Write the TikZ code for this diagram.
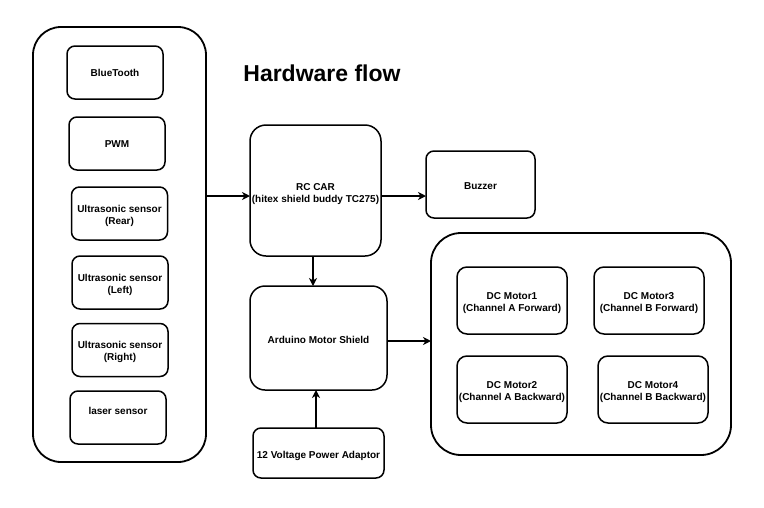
\documentclass[tikz,border=0pt]{standalone}
\usepackage{fontspec}
\setmainfont{Liberation Sans}
\usetikzlibrary{arrows.meta}
\newcommand\boxtext[2][-3pt]{\raisebox{#1}[\height][\depth]{\begin{tabular}{@{}c@{}}#2\end{tabular}}}
\begin{document}
\begin{tikzpicture}[x=1pt,y=-1pt,
		box/.style={draw,line width=1.5pt,rounded corners=8pt,align=center,inner sep=0pt,outer sep=0pt,
			font=\bfseries\fontsize{10}{12}\selectfont},
		group/.style={draw,line width=1.8pt,rounded corners=28pt,inner sep=0pt,outer sep=0pt},
		arr/.style={line width=1.5pt,-{Stealth[length=8pt,width=8pt,inset=2.5pt]}}]
	\useasboundingbox (0,0) rectangle (764,507);
	% sensor column
	\node[group,minimum width=173pt,minimum height=435pt] (sensors) at (119.5,244.5) {};
	\foreach \name/\x/\y/\dy/\txt in {blue/115/72.5/-2pt/BlueTooth,
						pwm/117/143.5/-2pt/PWM,
						rear/119.5/213.5/-3pt/{Ultrasonic sensor\\(Rear)},
						left/120/282.5/-2.5pt/{Ultrasonic sensor\\(Left)},
						right/120/350/-2.5pt/{Ultrasonic sensor\\(Right)},
						laser/118/417.5/5pt/laser sensor}
		\node[box,minimum width=96pt,minimum height=53pt] (\name) at (\x,\y) {\boxtext[\dy]{\txt}};
	\node[font=\bfseries\fontsize{23}{27}\selectfont] (title) at (322,73) {Hardware flow};
	% controller and shield
	\node[box,rounded corners=16pt,minimum width=131pt,minimum height=131pt] (car) at (315.5,190.5) {\boxtext[-3.5pt]{RC CAR\\(hitex shield buddy TC275)}};
	\node[box,minimum width=109pt,minimum height=67pt] (buzzer) at (480.5,184.5) {\boxtext{Buzzer}};
	\node[box,rounded corners=15pt,minimum width=137pt,minimum height=104pt] (shield) at (318.5,338) {\boxtext{Arduino Motor Shield}};
	\node[box,minimum width=131pt,minimum height=50pt] (power) at (318.5,453) {\boxtext{12 Voltage Power Adaptor}};
	% motors
	\node[group,rounded corners=30pt,minimum width=300pt,minimum height=222pt] (motors) at (581,344) {};
	\foreach \name/\x/\y/\txt in {m1/512/300.5/{DC Motor1\\(Channel A Forward)},
						m3/649/300.5/{DC Motor3\\(Channel B Forward)},
						m2/512/389.5/{DC Motor2\\(Channel A Backward)},
						m4/653/389.5/{DC Motor4\\(Channel B Backward)}}
		\node[box,rounded corners=10pt,minimum width=110pt,minimum height=67pt] (\name) at (\x,\y) {\boxtext{\txt}};
	% connectors
	\draw[arr] (sensors.east |- 0,196) -- ([yshift=-5.5pt]car.west);
	\draw[arr] ([yshift=-5.5pt]car.east) -- (buzzer.west |- 0,196);
	\draw[arr] ([xshift=-2.5pt]car.south) -- ([xshift=-2.5pt]car.south |- shield.north);
	\draw[arr] ([xshift=-2.5pt]power.north) -- ([xshift=-2.5pt]power.north |- shield.south);
	\draw[arr] ([yshift=-3pt]shield.east) -- ([yshift=-3pt]shield.east -| motors.west);
\end{tikzpicture}
\end{document}
